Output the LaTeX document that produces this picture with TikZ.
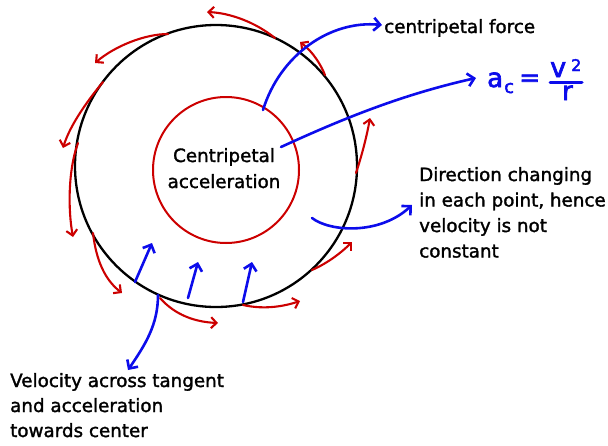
\documentclass[tikz,border=0pt]{standalone}
\usepackage{fontspec}
\setmainfont{DejaVu Sans}
\newfontfamily\hand[FakeBold=1.6]{DejaVu Sans}
\newfontfamily\handf[FakeBold=2.6]{DejaVu Sans}
\usetikzlibrary{arrows.meta}
\definecolor{myred}{RGB}{204,0,0}
\definecolor{myblue}{RGB}{12,12,235}
\begin{document}
\begin{tikzpicture}[x=1pt,y=-1pt,
  redarr/.style={draw=myred, line width=2.1pt, line cap=round, -{Straight Barb[length=5.5pt,width=11pt,line width=2.1pt]}},
  bluearr/.style={draw=myblue, line width=2.6pt, line cap=round, -{Straight Barb[length=6.5pt,width=13pt,line width=2.6pt]}},
  txt/.style={font=\hand\fontsize{18.3}{25.5}\selectfont, inner sep=0pt, anchor=base west},
  ctxt/.style={font=\hand\fontsize{18.3}{25.5}\selectfont, inner sep=0pt, anchor=base},
  frm/.style={text=myblue, inner sep=0pt, anchor=base west}]
\useasboundingbox (0,0) rectangle (608,445);
% circles
\draw[line width=2.3pt] (216,166) circle[radius=141pt];
\draw[myred, line width=2pt] (226,170) circle[radius=73pt];
% inner text
\node[ctxt] (c1) at (224,162) {Centripetal};
\node[ctxt] (c2) at (224,188) {acceleration};
% red tangent arrows
\draw[redarr] (275,38) .. controls (255,22) and (230,13) .. (207,12);
\draw[redarr] (325,75) .. controls (318,58) and (308,48) .. (300,42);
\draw[redarr] (168,34) .. controls (145,34) and (115,46) .. (95,63);
\draw[redarr] (103,82) .. controls (88,100) and (70,125) .. (63,148);
\draw[redarr] (78,143) .. controls (68,170) and (68,210) .. (73,237);
\draw[redarr] (93,233) .. controls (96,260) and (105,280) .. (122,293);
\draw[redarr] (160,298) .. controls (175,315) and (195,322) .. (218,323);
\draw[redarr] (243,305) .. controls (265,310) and (285,306) .. (300,301);
\draw[redarr] (312,270) .. controls (328,263) and (342,252) .. (352,242);
\draw[redarr] (356,173) .. controls (362,155) and (367,135) .. (370,118);
% labels
\node[txt] (cf) at (384,33) {centripetal force};
\node[txt] (d1) at (419,181) {Direction changing};
\node[txt] (d2) at (419,206.5) {in each point, hence};
\node[txt] (d3) at (419,232) {velocity is not};
\node[txt] (d4) at (419,257.5) {constant};
\node[txt] (v1) at (10,387) {Velocity across tangent};
\node[txt] (v2) at (10,412) {and acceleration};
\node[txt] (v3) at (10,437) {towards center};
% formula
\node[frm, font=\handf\fontsize{26}{26}\selectfont] (fa) at (487,87) {a};
\node[frm, font=\handf\fontsize{18}{18}\selectfont] (fc) at (504,93) {c};
\node[frm, font=\handf\fontsize{25}{25}\selectfont] (feq) at (519,86) {=};
\node[frm, font=\handf\fontsize{27}{27}\selectfont] (fv) at (550,77) {v};
\node[frm, font=\handf\fontsize{16}{16}\selectfont] (f2) at (571,71) {2};
\node[frm, font=\handf\fontsize{26}{26}\selectfont] (fr) at (562,100) {r};
\coordinate (barL) at (550,82);
\coordinate (barR) at (582,82);
\draw[myblue, line width=3pt, line cap=round] (barL) -- (barR);
% blue connectors
\coordinate (b1s) at (263,110);
\coordinate (b1e) at (382,25);
\draw[bluearr] (b1s) .. controls (280,55) and (330,20) .. (b1e);
\coordinate (b2s) at (281,147);
\coordinate (b2e) at (476,78);
\draw[bluearr] (b2s) .. controls (340,120) and (400,95) .. (b2e);
\coordinate (b3s) at (312,218);
\coordinate (b3e) at (412,205);
\draw[bluearr] (b3s) .. controls (330,232) and (380,235) .. (b3e);
\coordinate (u1s) at (135,282); \coordinate (u1e) at (152,243);
\coordinate (u2s) at (188,298); \coordinate (u2e) at (198,262);
\coordinate (u3s) at (243,302); \coordinate (u3e) at (252,262);
\draw[bluearr] (u1s) -- (u1e);
\draw[bluearr] (u2s) -- (u2e);
\draw[bluearr] (u3s) -- (u3e);
\coordinate (b5s) at (158,295);
\coordinate (b5e) at (128,370);
\draw[bluearr] (b5s) .. controls (158,325) and (145,345) .. (b5e);
\end{tikzpicture}
\end{document}
